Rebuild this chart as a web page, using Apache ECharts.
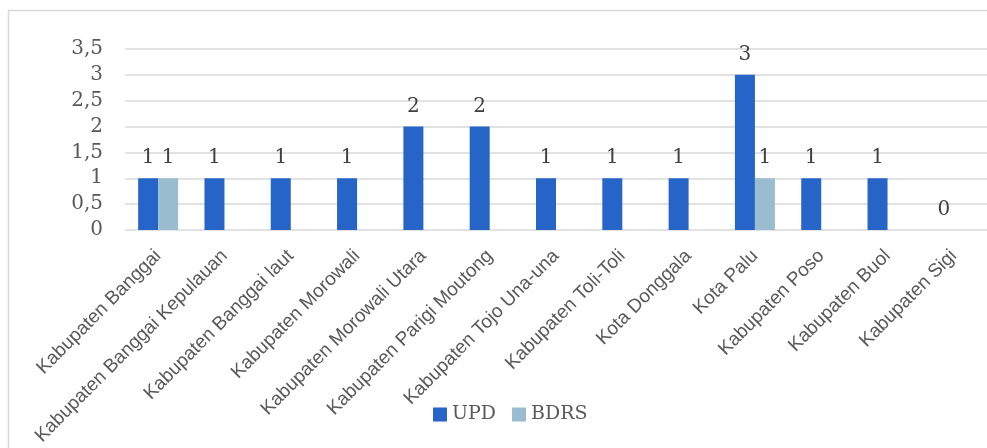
<!DOCTYPE html>
<html>
<head>
<meta charset="utf-8">
<script src="https://cdn.jsdelivr.net/npm/echarts@6/dist/echarts.min.js"></script>
<style>
  html, body { margin: 0; padding: 0; background: #fff; }
  #chart { width: 987px; height: 448px; }
</style>
</head>
<body>
<div id="chart"></div>
<script>
// Regions of Central Sulawesi
const categories = [
  'Kabupaten Banggai', 'Kabupaten Banggai Kepulauan', 'Kabupaten Banggai laut',
  'Kabupaten Morowali', 'Kabupaten Morowali Utara', 'Kabupaten Parigi Moutong',
  'Kabupaten Tojo Una-una', 'Kabupaten Toli-Toli', 'Kota Donggala', 'Kota Palu',
  'Kabupaten Poso', 'Kabupaten Buol', 'Kabupaten Sigi'
];
const updValues  = [1, 1, 1, 1, 2, 2, 1, 1, 1, 3, 1, 1, 0];
const bdrsValues = [1, null, null, null, null, null, null, null, null, 1, null, null, null];
const seriesNames = ['UPD', 'BDRS'];

const serif = '"DejaVu Serif", "Liberation Serif", serif';
const sans = '"Liberation Sans", Arial, sans-serif';

const chart = echarts.init(document.getElementById('chart'), null, { renderer: 'canvas' });

const labelStyle = {
  show: true,
  position: 'top',
  distance: 10,
  fontFamily: serif,
  fontSize: 20,
  color: '#404040'
};

chart.setOption({
  animation: false,
  graphic: [{
    type: 'rect',
    shape: { x: 8.5, y: 10.5, width: 990, height: 450 },
    style: { fill: 'none', stroke: '#d9d9d9', lineWidth: 1.5 },
    silent: true
  }],
  grid: { left: 125, top: 49, width: 864.5, bottom: 218, containLabel: false },
  legend: {
    bottom: 19,
    left: 428,
    itemWidth: 14,
    itemHeight: 14,
    itemGap: 16,
    icon: 'rect',
    textStyle: { fontFamily: serif, fontSize: 19, color: '#595959' },
    data: seriesNames
  },
  xAxis: {
    type: 'category',
    data: categories,
    axisLine: { show: false },
    axisTick: { show: false },
    axisLabel: {
      rotate: 45,
      interval: 0,
      margin: 23,
      fontFamily: sans,
      fontSize: 19,
      color: '#595959'
    }
  },
  yAxis: {
    type: 'value',
    min: 0,
    max: 3.5,
    interval: 0.5,
    axisLine: { show: false },
    axisTick: { show: false },
    splitLine: { lineStyle: { color: '#d9d9d9', width: 1.5 } },
    axisLabel: {
      margin: 22,
      fontFamily: serif,
      fontSize: 20,
      color: '#595959',
      formatter: v => String(v).replace('.', ',')
    }
  },
  series: [
    {
      name: seriesNames[0],
      type: 'bar',
      data: updValues,
      barWidth: 20,
      barGap: '0%',
      itemStyle: { color: '#2664c7' },
      label: labelStyle
    },
    {
      name: seriesNames[1],
      type: 'bar',
      data: bdrsValues,
      barWidth: 20,
      barGap: '0%',
      itemStyle: { color: '#9abccf' },
      label: labelStyle
    }
  ]
});
</script>
</body>
</html>
